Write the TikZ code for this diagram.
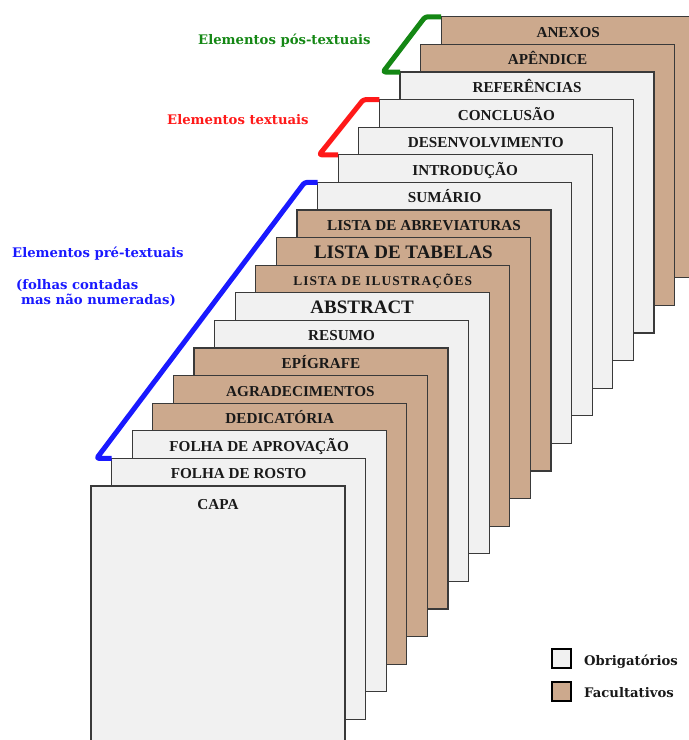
\documentclass[tikz,border=0pt]{standalone}
\usepackage{fontspec}
\setmainfont{Liberation Serif}
\newfontfamily\notefont{DejaVu Serif}
\definecolor{cObrig}{RGB}{241,241,241}
\definecolor{cFacul}{RGB}{204,169,141}
\definecolor{cFrame}{RGB}{58,58,58}
\definecolor{cPos}{RGB}{20,135,20}
\definecolor{cTxt}{RGB}{255,25,25}
\definecolor{cPre}{RGB}{25,25,255}
\begin{document}
\begin{tikzpicture}[x=1pt,y=-1pt,
  page/.style={draw=cFrame, line width=1.3pt, minimum width=254pt,
    minimum height=261pt, anchor=north west, inner sep=0pt, outer sep=0pt},
  obr/.style={page, fill=cObrig},
  fac/.style={page, fill=cFacul},
  lblN/.style={font=\bfseries\fontsize{15.2}{18}\selectfont},
  lblB/.style={font=\bfseries\fontsize{19}{22}\selectfont},
  lblS/.style={font=\bfseries\fontsize{13.4}{16}\selectfont\addfontfeature{LetterSpace=8}},
  pagelabel/.style={text=black!90, inner sep=0pt, anchor=base},
  note/.style={font=\notefont\bfseries\fontsize{13.2}{15.5}\selectfont, inner sep=0pt, anchor=west, align=left},
  bracket/.style={line width=5pt, rounded corners=2.5pt, line join=round},
  legbox/.style={draw=black, line width=2pt, minimum size=19pt, inner sep=0pt},
]
\useasboundingbox (0,0) rectangle (689,740);
\clip (0,0) rectangle (689,740);

% stack of sheets, drawn from the back (17) to the front (0)
\foreach \txt/\kind/\sty [count=\k from 0] in {
  ANEXOS/fac/lblN,
  APÊNDICE/fac/lblN,
  REFERÊNCIAS/obr/lblN,
  CONCLUSÃO/obr/lblN,
  DESENVOLVIMENTO/obr/lblN,
  INTRODUÇÃO/obr/lblN,
  SUMÁRIO/obr/lblN,
  LISTA DE ABREVIATURAS/fac/lblN,
  LISTA DE TABELAS/fac/lblB,
  LISTA DE ILUSTRAÇÕES/fac/lblS,
  ABSTRACT/obr/lblB,
  RESUMO/obr/lblN,
  EPÍGRAFE/fac/lblN,
  AGRADECIMENTOS/fac/lblN,
  DEDICATÓRIA/fac/lblN,
  FOLHA DE APROVAÇÃO/obr/lblN,
  FOLHA DE ROSTO/obr/lblN,
  CAPA/obr/lblN}
{
  \pgfmathtruncatemacro{\n}{17-\k}
  \pgfmathsetmacro{\px}{91+20.6*\n}
  \pgfmathsetmacro{\py}{486-27.6*\n}
  \node[\kind] (p\n) at (\px,\py) {};
  \pgfmathsetmacro{\dy}{ifthenelse(\n==0,23,20.5)}
  \node[pagelabel, \sty] (t\n) at ([yshift=-\dy pt]p\n.north) {\txt};
}

% group brackets
\draw[bracket, cPos] (p15.north west) -- ++(-17,0)
  -- ([xshift=-16pt]p17.north west) -- (p17.north west);
\draw[bracket, cTxt] (p12.north west) -- ++(-19,0)
  -- ([xshift=-16pt]p14.north west) -- (p14.north west);
\draw[bracket, cPre] (p1.north west) -- ++(-15,0)
  -- ([xshift=-13pt]p11.north west) -- (p11.north west);

% group captions
\node[note, text=cPos] (gpos) at (198,41) {Elementos pós-textuais};
\node[note, text=cTxt] (gtxt) at (167,120) {Elementos textuais};
\node[note, text=cPre] (gpre) at (12,254) {Elementos pré-textuais};
\node[note, text=cPre] (gpre2) at (16,286) {(folhas contadas};
\node[note, text=cPre] (gpre3) at (21,300) {mas não numeradas)};

% legend
\node[legbox, fill=cObrig] (lo) at (561,658.5) {};
\node[legbox, fill=cFacul] (lf) at (561,691.5) {};
\node[note, text=black!90] (lot) at (584,662) {Obrigatórios};
\node[note, text=black!90] (lft) at (584,693) {Facultativos};
\end{tikzpicture}
\end{document}
